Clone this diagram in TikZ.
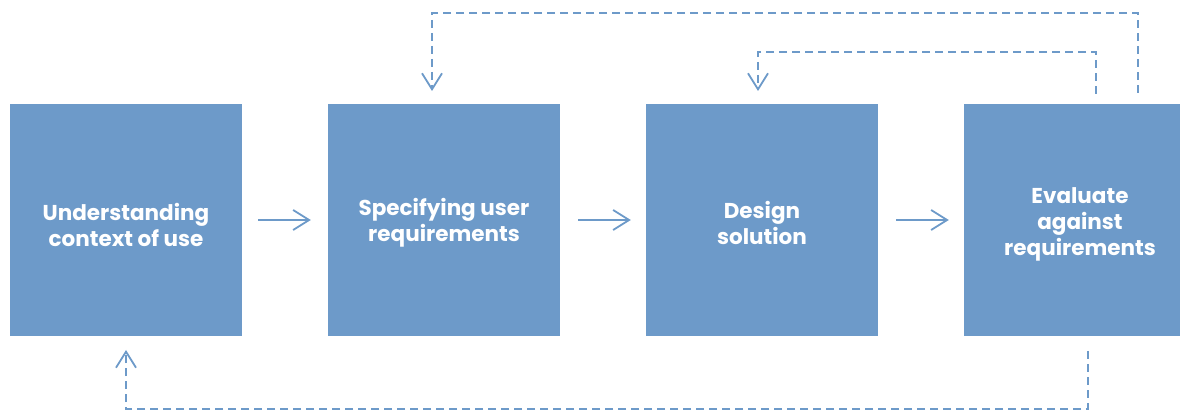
\documentclass[tikz,border=0pt]{standalone}
\usepackage{fontspec}
\setmainfont{Poppins}
\usetikzlibrary{arrows.meta}
\definecolor{stageblue}{HTML}{6D9AC9}
\begin{document}
\begin{tikzpicture}[x=1pt,y=-1pt,
  stagebox/.style={fill=stageblue,draw=none,minimum width=232pt,minimum height=232pt,
    inner sep=0pt},
  label/.style={text=white,align=center,font=\fontsize{21.5}{26}\selectfont\bfseries},
  flow/.style={draw=stageblue,line width=1.8pt,-{Straight Barb[length=16pt,width=20pt,line width=1.8pt]}},
  loop/.style={flow,dash pattern=on 8pt off 5pt}]
\useasboundingbox (0,0) rectangle (1180,411);
% stage boxes
\node[stagebox] (s1) at (126,220) {};
\node[stagebox] (s2) at (444,220) {};
\node[stagebox] (s3) at (762,220) {};
\node[stagebox] (s4) at (1080,220) {};
% stage titles
\node[label] (t1) at (126,225) {Understanding\\context of use};
\node[label] (t2) at (444,223) {Specifying user\\requirements};
\node[label] (t3) at (762,223) {Design\\solution};
\node[label] (t4) at (1080,224) {Evaluate\\against\\requirements};
% forward flow between stages
\draw[flow,shorten <=16pt,shorten >=17pt] (s1.east) -- (s2.west);
\draw[flow,shorten <=18pt,shorten >=15pt] (s2.east) -- (s3.west);
\draw[flow,shorten <=18pt,shorten >=15pt] (s3.east) -- (s4.west);
% iteration loops
\coordinate (o1) at (1138,93);
\coordinate (o2) at (1138,13);
\coordinate (o3) at (432,13);
\coordinate (o4) at (432,91);
\draw[loop] (o1) -- (o2) -- (o3) -- (o4);
\coordinate (i1) at (1096,94);
\coordinate (i2) at (1096,52);
\coordinate (i3) at (758,52);
\coordinate (i4) at (758,91);
\draw[loop] (i1) -- (i2) -- (i3) -- (i4);
\coordinate (b1) at (1088,351);
\coordinate (b2) at (1088,409);
\coordinate (b3) at (126,409);
\coordinate (b4) at (126,350);
\draw[loop] (b1) -- (b2) -- (b3) -- (b4);
\end{tikzpicture}
\end{document}
